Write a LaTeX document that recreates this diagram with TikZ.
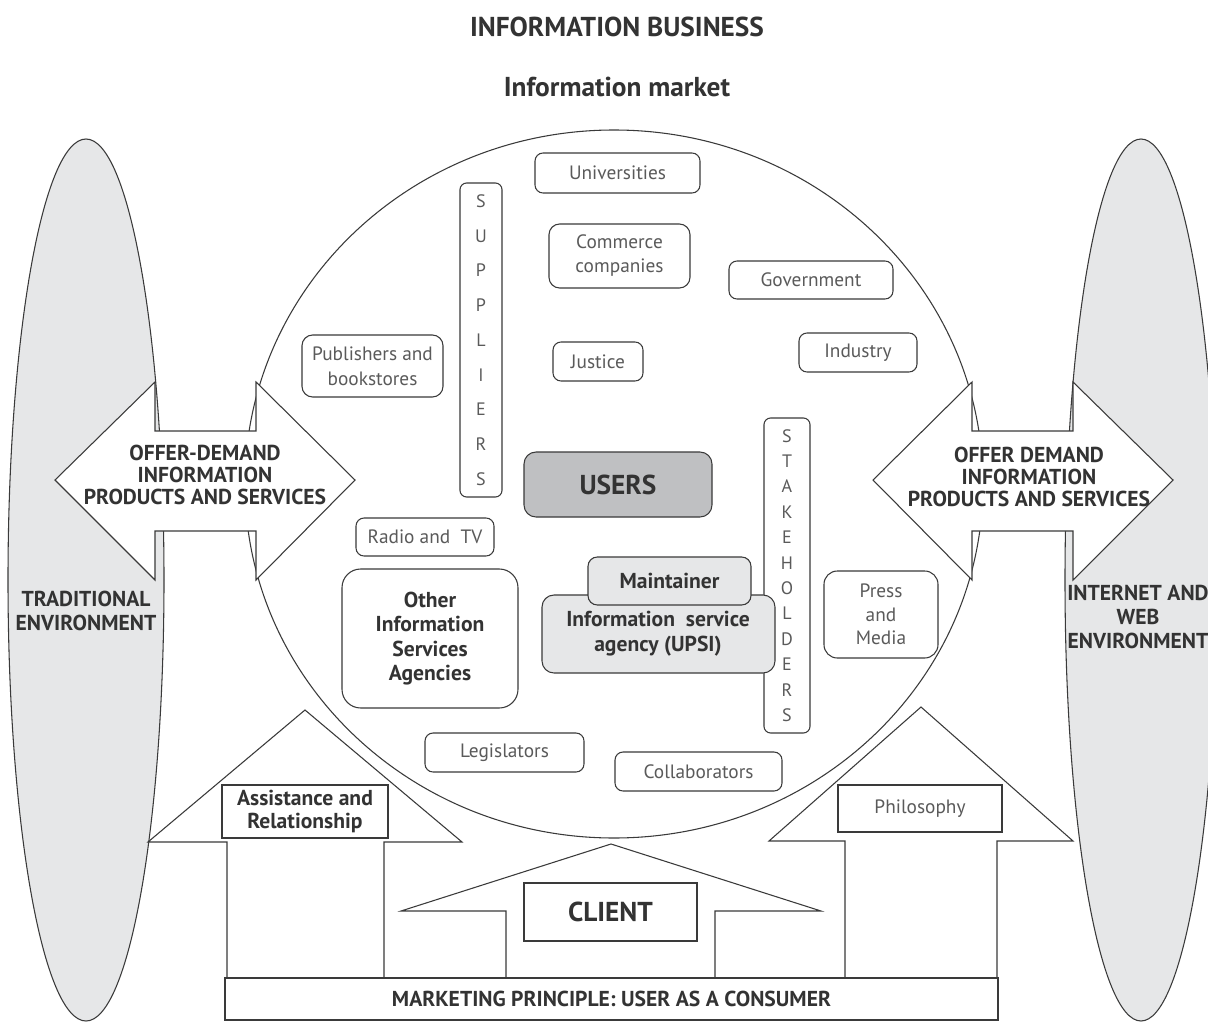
\documentclass[tikz,border=0pt]{standalone}
\usepackage{fontspec}
\setmainfont{PT Sans}
\definecolor{lc}{HTML}{3A3A3A}
\definecolor{tl}{HTML}{5A5A5A}
\definecolor{tb}{HTML}{333333}
\definecolor{envg}{HTML}{E6E7E8}
\definecolor{usersg}{HTML}{BFC0C2}
\newcommand\myfs[2]{\fontsize{#1}{#2}\selectfont}
\tikzset{
  bx/.style n args={4}{at={({(#1+#3)/2},{(#2+#4)/2})}, minimum width={(#3-#1)*0.75pt}, minimum height={(#4-#2)*0.75pt}},
  shp/.style={draw=lc, line width=0.8pt, line join=miter},
  lbox/.style={draw=lc, line width=0.8pt, rounded corners=6pt, fill=white, inner sep=0pt, align=center, text=tl, font=\myfs{14.5}{18}},
  bbox/.style={draw=lc, line width=0.8pt, rounded corners=8pt, fill=white, inner sep=0pt, align=center, text=tb, font=\bfseries\myfs{16.2}{18.2}},
  sqbox/.style={draw=lc, line width=0.8pt, fill=white, inner sep=0pt, align=center},
  btxt/.style={align=center, text=tb, font=\bfseries\myfs{16.2}{16.6}, inner sep=0pt},
}
\begin{document}
\begin{tikzpicture}[x=0.75pt,y=-0.75pt]
\useasboundingbox (0,0) rectangle (1208,1028);
\clip (0,0) rectangle (1208,1028);

% titles
\node[text=tb, font=\bfseries\myfs{20.5}{22}] (title) at (617,27) {INFORMATION BUSINESS};
\node[text=tb, font=\bfseries\myfs{20.5}{22}] (market) at (617,87) {Information market};

% environments
\draw[shp, fill=envg] (86,580) ellipse [x radius=78, y radius=441];
\draw[shp, fill=envg] (1141,580) ellipse [x radius=76, y radius=441];
\node[btxt, font=\bfseries\myfs{16.2}{17.5}] (trad) at (86,611) {TRADITIONAL\\ENVIRONMENT};
\node[btxt, font=\bfseries\myfs{16.2}{18}] (web) at (1138,617) {INTERNET AND\\WEB\\ENVIRONMENT};

% market circle
\draw[shp, fill=white] (614,484) ellipse [x radius=369, y radius=354];

% boxes inside
\node[lbox, bx={535}{153}{700}{193}] (univ) {Universities};
\node[lbox, rounded corners=5pt, bx={460}{183}{502}{497}, font=\myfs{13.5}{26.05}] (sup) {S\\U\\P\\P\\L\\I\\E\\R\\S};
\node[lbox, rounded corners=8pt, bx={549}{224}{690}{288}] (comm) {Commerce\\companies};
\node[lbox, bx={729}{261}{893}{299}] (gov) {Government};
\node[lbox, rounded corners=8pt, bx={302}{335}{443}{397}, font=\myfs{14.5}{18.8}] (pub) {Publishers and\\bookstores};
\node[lbox, bx={553}{342}{643}{381}] (just) {Justice};
\node[lbox, bx={799}{333}{917}{372}] (ind) {Industry};
\node[lbox, rounded corners=5pt, bx={764}{418}{810}{733}, font=\myfs{13.5}{19.05}] (stake) {S\\T\\A\\K\\E\\H\\O\\L\\D\\E\\R\\S};
\node[bbox, rounded corners=9pt, fill=usersg, bx={524}{452}{712}{517}, font=\bfseries\myfs{20.5}{22}] (users) {USERS};
\node[lbox, bx={356}{518}{494}{556}] (radio) {Radio and\ \ TV};
\node[bbox, rounded corners=14pt, bx={342}{569}{518}{708}] (other) {Other\\Information\\Services\\Agencies};
\node[bbox, rounded corners=9pt, fill=envg, bx={542}{595}{775}{673}, font=\bfseries\myfs{16.2}{18.8}] (upsi) {};
\node[bbox, rounded corners=7pt, fill=envg, bx={588}{557}{751}{605}] (maint) {Maintainer};
\node[btxt, font=\bfseries\myfs{16.2}{18.8}] (upsitxt) at (658,634) {Information\ \ service\\agency (UPSI)};
\node[lbox, rounded corners=10pt, bx={824}{571}{938}{658}, font=\myfs{14.5}{17.6}] (press) {Press\\and\\Media};
\node[lbox, bx={425}{733}{584}{772}] (leg) {Legislators};
\node[lbox, bx={615}{752}{782}{791}] (coll) {Collaborators};

% offer-demand double arrows
\draw[shp, fill=white] (55,480) -- (155,382) -- (155,431) -- (256,431) -- (256,382) -- (355,480)
  -- (256,580) -- (256,531) -- (155,531) -- (155,580) -- cycle;
\node[btxt] (odl) at (205,475) {OFFER-DEMAND\\INFORMATION\\PRODUCTS AND SERVICES};
\draw[shp, fill=white] (873,480) -- (972,382) -- (972,431) -- (1073,431) -- (1073,382) -- (1173,480)
  -- (1073,580) -- (1073,531) -- (972,531) -- (972,580) -- cycle;
\node[btxt] (odr) at (1029,477) {OFFER DEMAND\\INFORMATION\\PRODUCTS AND SERVICES};

% upward arrows
\draw[shp, fill=white] (148,842) -- (305,710) -- (462,842) -- (384,842) -- (384,978) -- (227,978) -- (227,842) -- cycle;
\node[sqbox, bx={222}{785}{388}{838}, text=tb, font=\bfseries\myfs{16.2}{17.2}] (assist) {Assistance and\\Relationship};

\draw[shp, fill=white] (401,911) -- (611,844) -- (821,911) -- (715,911) -- (715,978) -- (506,978) -- (506,911) -- cycle;
\node[sqbox, bx={524}{883}{697}{941}, text=tb, font=\bfseries\myfs{20.5}{22}] (client) {CLIENT};

\draw[shp, fill=white] (769,841) -- (921,707) -- (1073,841) -- (997,841) -- (997,978) -- (845,978) -- (845,841) -- cycle;
\node[sqbox, bx={838}{785}{1002}{832}, text=tl, font=\myfs{14.5}{18}] (philo) {Philosophy};

% base
\node[sqbox, bx={225}{978}{998}{1020}, text=tb, font=\bfseries\myfs{16.2}{18}] (mkt) {MARKETING PRINCIPLE: USER AS A CONSUMER};
\end{tikzpicture}
\end{document}
